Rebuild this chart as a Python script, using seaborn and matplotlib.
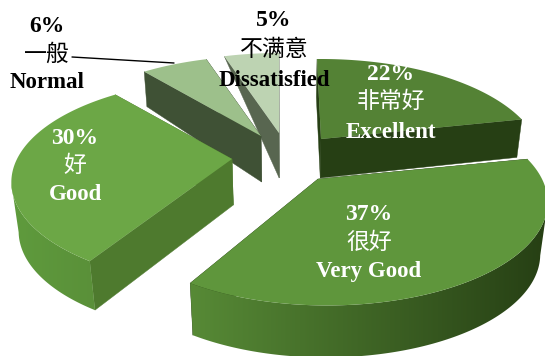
import numpy as np
import matplotlib
matplotlib.use("Agg")
import matplotlib.pyplot as plt
from matplotlib.colors import to_rgb
from matplotlib.patches import Polygon
import seaborn as sns

# Survey shares, clockwise from twelve o'clock
labels_en = ["Excellent", "Very Good", "Good", "Normal", "Dissatisfied"]
labels_zh = ["非常好", "很好", "好", "一般", "不满意"]
shares = [22, 37, 30, 6, 5]

# Appearance of each exploded slice
top_colors = ["#548235", "#5F963C", "#6CA746", "#9DC08B", "#BDD3B2"]
edge_colors = ["#263F14", "#263F14", "#4E7A2E", "#3F5135", "#586650"]
# Outer wall shading, left colour then right colour
wall_colors = [("#263F14", "#263F14"), ("#578A36", "#263F14"), ("#5F9B3D", "#5A9039"),
               ("#3F5135", "#3F5135"), ("#586650", "#586650")]
apex_x = [321, 318, 232, 261, 279]
apex_y = [139, 179, 159, 136, 133]
apex_depth = [39, 44, 46, 46, 45]
rim_depth = [38, 52, 49, 35, 0]
twist = [-1.3, -1.5, 0, 0, 0]
rim_shift = [0, 9, 0, 0, 0]
draw_order = [4, 3, 0, 2, 1]

label_x = [391, 369, 75, 47, 274]
label_y = [(74, 101, 132), (215, 242, 272), (139, 165, 195), (27, 54, 83), (21, 49, 80)]
label_colors = ["white", "white", "white", "black", "black"]

# Projection of the tilted disc
A, B, K = 215.0, 98.0, 0.225
TAPER = 0.025
SERIF = ["Liberation Serif", "Noto Sans CJK SC"]
CJK = ["Noto Sans CJK SC", "DejaVu Sans"]

sns.set_theme(style="white")
fig, ax = plt.subplots(figsize=(5.45, 3.56), dpi=100)
fig.subplots_adjust(0, 0, 1, 1)
sns.despine(ax=ax, left=True, bottom=True)
ax.set_axis_off()


def project(i, theta_deg):
    t = np.radians(theta_deg)
    X, Y = np.sin(t), np.cos(t)
    s = 1.0 / (1.0 + K * Y)
    return apex_x[i] + rim_shift[i] + A * X * s, apex_y[i] - B * Y * s


def lowered(i, x, y, r=1.0):
    depth = apex_depth[i] + (rim_depth[i] - apex_depth[i]) * r
    return x + (285 - x) * TAPER * (depth / 46.0), y + depth


edges = np.concatenate([[0], np.cumsum(shares)]) * 3.6

for rank, i in enumerate(draw_order):
    z = rank * 3 + 1
    start, end = edges[i] + twist[i], edges[i + 1] + twist[i]
    thetas = np.linspace(start, end, 180)
    px, py = project(i, thetas)
    ax0, ay0 = apex_x[i], apex_y[i]
    bx0, by0 = lowered(i, ax0, ay0, 0.0)

    # Radial walls
    for k in (0, -1):
        bx, by = lowered(i, px[k], py[k])
        ax.fill([ax0, px[k], bx, bx0], [ay0, py[k], by, by0],
                color=edge_colors[i], lw=0.3, zorder=z)

    # Curved outer wall: only the stretch facing the viewer, where the rim runs leftward.
    # A horizontal colour ramp is clipped to its outline.
    facing = np.gradient(px) < 0
    if facing.sum() > 1:
        fx, fy = px[facing], py[facing]
        bxs, bys = lowered(i, fx, fy)
        wall_x = np.r_[fx, bxs[::-1]]
        wall_y = np.r_[fy, bys[::-1]]
        outline = Polygon(np.c_[wall_x, wall_y], closed=True, fc="none", ec="none",
                          transform=ax.transData)
        ax.add_patch(outline)
        ramp = np.array([to_rgb(c) for c in sns.blend_palette(list(wall_colors[i]), 256)])
        image = ax.imshow(ramp[np.newaxis, :, :], aspect="auto", interpolation="bilinear",
                          extent=(wall_x.min(), wall_x.max(), wall_y.max(), wall_y.min()),
                          zorder=z + 1)
        image.set_clip_path(outline)

    # Top face
    ax.fill(np.r_[ax0, px], np.r_[ay0, py], color=top_colors[i], lw=0, zorder=z + 2)

# Leader line for the Normal label
ax.plot([72, 174], [57, 63], color="black", lw=1.0, zorder=40)

for i, (share, en, zh) in enumerate(zip(shares, labels_en, labels_zh)):
    y1, y2, y3 = label_y[i]
    c = label_colors[i]
    ax.text(label_x[i], y1, f"{share}%", ha="center", va="center", color=c,
            fontsize=17, fontweight="bold", family=SERIF, zorder=50)
    ax.text(label_x[i], y2, zh, ha="center", va="center", color=c,
            fontsize=16.5, family=CJK, zorder=50)
    ax.text(label_x[i], y3, en, ha="center", va="center", color=c,
            fontsize=16.5, fontweight="bold", family=SERIF, zorder=50)

ax.set_xlim(0, 545)
ax.set_ylim(356, 0)
fig.savefig("out.png", dpi=100, facecolor="white")
